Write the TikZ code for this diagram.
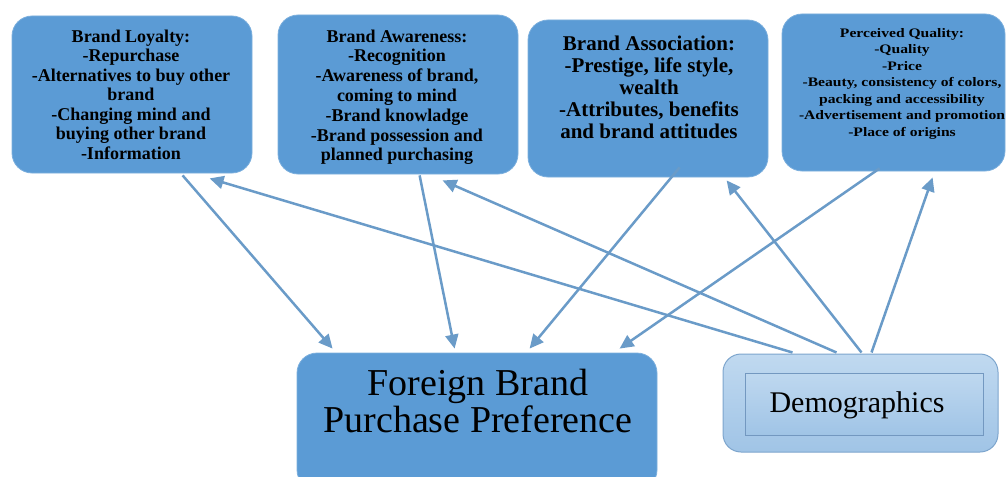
\documentclass[tikz,border=0pt]{standalone}
\usepackage{fontspec}
\setmainfont{Liberation Serif}
\newfontfamily\pqfont[FakeStretch=1.2]{Liberation Serif}
\usetikzlibrary{arrows.meta,calc}
\definecolor{boxblue}{RGB}{91,155,213}
\definecolor{arrowblue}{RGB}{106,155,200}
\definecolor{demotop}{RGB}{192,217,240}
\definecolor{demobot}{RGB}{160,196,230}
\definecolor{demoline}{RGB}{125,165,205}
\definecolor{demoinner}{RGB}{115,152,192}
\begin{document}
\begin{tikzpicture}[x=1pt,y=-1pt,
  box/.style={draw=boxblue!80!white, line width=0.8pt, fill=boxblue, rounded corners=20pt, inner sep=0pt},
  txt/.style={inner sep=0pt, align=center, anchor=north, text=black},
  link/.style={draw=arrowblue, line width=2.5pt, -{Triangle[length=14pt,width=13pt]}}]
\path[use as bounding box] (0,0) rectangle (1008,476);
\clip (0,0) rectangle (1008,476);

% boxes
\node[box, minimum width=240pt, minimum height=157pt] (bl) at (132,94.5) {};
\node[box, minimum width=240pt, minimum height=159pt] (ba) at (398,94.5) {};
\node[box, minimum width=240pt, minimum height=157pt] (bas) at (648,98.5) {};
\node[box, minimum width=223pt, minimum height=157pt] (pq) at (893.5,92.5) {};
\node[box, minimum width=360pt, minimum height=137pt] (fb) at (477,421.5) {};
\node[draw=demoline, line width=1pt, top color=demotop, bottom color=demobot, rounded corners=18pt,
      minimum width=275pt, minimum height=98pt, inner sep=0pt] (dm) at (860.5,403) {};
\node[draw=demoinner, line width=1pt, top color=demotop!95!demobot, bottom color=demobot,
      minimum width=238pt, minimum height=62pt, inner sep=0pt] (dmin) at (864,404) {};

% texts
\node[txt, font=\fontsize{18}{19.5}\selectfont\bfseries] (tbl) at (131,29.5)
  {Brand Loyalty:\\-Repurchase\\-Alternatives to buy other\\brand\\-Changing mind and\\buying other brand\\-Information};
\node[txt, font=\fontsize{18}{19.8}\selectfont\bfseries] (tba) at (397,29.5)
  {Brand Awareness:\\-Recognition\\-Awareness of brand,\\coming to mind\\-Brand knowladge\\-Brand possession and\\planned purchasing};
\node[txt, font=\fontsize{21}{22}\selectfont\bfseries] (tbas) at (649,35.7)
  {Brand Association:\\-Prestige, life style,\\wealth\\-Attributes, benefits\\and brand attitudes};
\node[txt, font=\pqfont\fontsize{13}{16.5}\selectfont\bfseries] (tpq) at (902,27.9)
  {Perceived Quality:\\-Quality\\-Price\\-Beauty, consistency of colors,\\packing and accessibility\\-Advertisement and promotion\\-Place of origins};
\node[txt, font=\fontsize{38}{37}\selectfont] (tfb) at (478,369)
  {Foreign Brand\\Purchase Preference};
\node[inner sep=0pt, font=\fontsize{30}{32}\selectfont] (tdm) at (857,405) {Demographics};

% connectors
\draw[link] ($(bl.south west)+(171,2)$) -- ($(fb.north west)+(36,-4)$);
\draw[link] ($(ba.south west)+(142,1)$) -- ($(fb.north west)+(158,-4)$);
\draw[link] ($(bas.south west)+(152,-10)$) -- ($(fb.north west)+(233,-4)$);
\draw[link] ($(pq.south west)+(98,-3)$) -- ($(fb.north west)+(323,-4)$);
\draw[link] ($(dm.north west)+(70,-1)$) -- ($(bl.south west)+(198,5)$);
\draw[link] ($(dm.north west)+(114,-1)$) -- ($(ba.south west)+(165,6)$);
\draw[link] ($(dm.north west)+(139,-1)$) -- ($(bas.south west)+(199,3)$);
\draw[link] ($(dm.north west)+(149,-1)$) -- ($(pq.south west)+(151,6)$);
\end{tikzpicture}
\end{document}
